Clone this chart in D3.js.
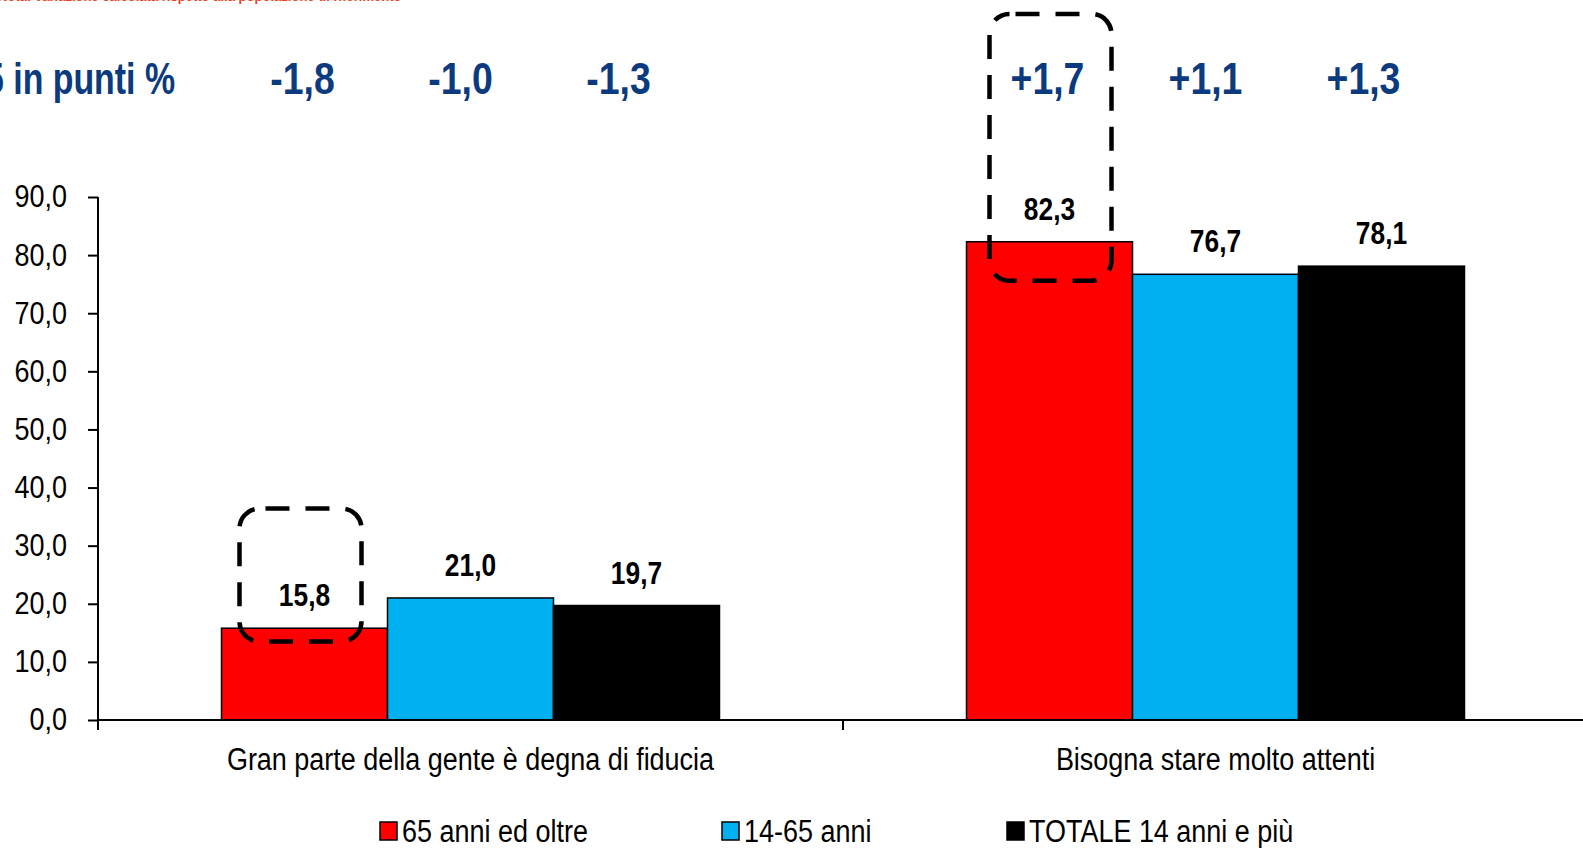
<!DOCTYPE html>
<html>
<head>
<meta charset="utf-8">
<script src="https://cdn.jsdelivr.net/npm/d3@7"></script>
<style>
  body { margin: 0; background: #fff; }
  svg { display: block; }
  text { font-family: "Liberation Sans", Arial, sans-serif; }
</style>
</head>
<body>
<div id="chart"></div>
<script>
// data
var categories = ["Gran parte della gente è degna di fiducia", "Bisogna stare molto attenti"];
var seriesNames = ["65 anni ed oltre", "14-65 anni", "TOTALE 14 anni e più"];
var seriesColors = ["#ff0000", "#00b0f0", "#000000"];
var values65 = [15.8, 82.3];
var values1465 = [21.0, 76.7];
var valuesTot = [19.7, 78.1];
var delta65 = [-1.8, 1.7];
var delta1465 = [-1.0, 1.1];
var deltaTot = [-1.3, 1.3];
var yTicks = [0, 10, 20, 30, 40, 50, 60, 70, 80, 90];
// dashed highlight boxes round the 65+ bars (value units)
var boxTop = [36.4, 121.5];
var boxBottom = [13.5, 75.6];

var seriesValues = [values65, values1465, valuesTot];
var seriesDeltas = [delta65, delta1465, deltaTot];

var width = 1583, height = 848;
var left = 98, catWidth = 745;
var NARROW = 0.87, NARROW_BOLD = 0.85;

var it = d3.formatLocale({decimal: ",", thousands: ".", grouping: [3], currency: ["", "€"]});
var fmt = it.format(".1f");
var fmtSign = function(v) { return (v > 0 ? "+" : "") + fmt(v).replace("−", "-"); };

// no narrow font installed, so squeeze the text horizontally
function place(sel, px, py, sx) {
  sel.attr("transform", "translate(" + px + "," + py + ") scale(" + sx + ",1)");
}

var svg = d3.select("#chart").append("svg")
    .attr("width", width).attr("height", height);

var x0 = d3.scaleBand().domain(categories).range([left, left + 2 * catWidth]);
var x1 = d3.scaleBand().domain(seriesNames).range([0, catWidth]).paddingInner(0).paddingOuter(0.744);
var y = d3.scaleLinear().domain([0, 90]).range([720, 197]);

// cut off note at the very top
svg.append("text").call(place, -2, 1, NARROW)
    .style("font-size", "15px").style("font-weight", "bold").style("fill", "#e8401c")
    .text("Nota: variazione calcolata rispetto alla popolazione di riferimento");

// delta row
svg.append("text").call(place, 175, 94, 0.77).attr("text-anchor", "end")
    .style("font-size", "44px").style("font-weight", "bold").style("fill", "#0b3a7e")
    .text("Variazioni 2015 in punti %");

categories.forEach(function(c, ci) {
  var center = x0(c) + x0.bandwidth() / 2 - 10;
  seriesNames.forEach(function(s, si) {
    svg.append("text")
        .call(place, center + (si - 1) * 158, 94, NARROW_BOLD)
        .attr("text-anchor", "middle")
        .style("font-size", "44px").style("font-weight", "bold").style("fill", "#0b3a7e")
        .text(fmtSign(seriesDeltas[si][ci]));
  });
});

// bars
var groups = svg.append("g").selectAll("g").data(categories).enter().append("g")
    .attr("transform", function(c) { return "translate(" + x0(c) + ",0)"; });

groups.selectAll("rect").data(function(c, ci) {
  return seriesNames.map(function(s, si) { return {s: s, si: si, v: seriesValues[si][ci]}; });
}).enter().append("rect")
    .attr("x", function(d) { return x1(d.s); })
    .attr("y", function(d) { return y(d.v); })
    .attr("width", x1.bandwidth())
    .attr("height", function(d) { return y(0) - y(d.v); })
    .style("fill", function(d) { return seriesColors[d.si]; })
    .style("stroke", "#000").style("stroke-width", 1.5);

groups.selectAll("text.val").data(function(c, ci) {
  return seriesNames.map(function(s, si) { return {s: s, v: seriesValues[si][ci]}; });
}).enter().append("text").attr("class", "val")
    .attr("transform", function(d) {
      return "translate(" + (x1(d.s) + x1.bandwidth() / 2) + "," + (y(d.v) - 22) + ") scale(" + NARROW_BOLD + ",1)";
    })
    .attr("text-anchor", "middle")
    .style("font-size", "31px").style("font-weight", "bold")
    .text(function(d) { return fmt(d.v); });

// dashed boxes
groups.append("rect")
    .attr("x", function(c, ci) { return x1(seriesNames[0]) + x1.bandwidth() / 2 - 65 + ci * 5; })
    .attr("y", function(c, ci) { return y(boxTop[ci]); })
    .attr("width", 122)
    .attr("height", function(c, ci) { return y(boxBottom[ci]) - y(boxTop[ci]); })
    .attr("rx", 20).attr("ry", 20)
    .style("fill", "none").style("stroke", "#000").style("stroke-width", 4.5)
    .style("stroke-dasharray", "24,16").style("stroke-dashoffset", -6);

// y axis
var yAxis = d3.axisLeft(y).tickValues(yTicks).tickSize(10).tickSizeOuter(0).tickPadding(21)
    .tickFormat(fmt);
var ya = svg.append("g").attr("transform", "translate(" + left + ",0)").call(yAxis);
ya.select(".domain").attr("d", "M0," + y(90) + "V" + (y(0) + 10)).style("stroke-width", 2);
ya.selectAll("line").style("stroke-width", 2);
ya.selectAll("text")
    .attr("x", null)
    .call(place, -31, 0, NARROW)
    .style("font-size", "31px").style("fill", "#000")
    .style("font-family", "'Liberation Sans', Arial, sans-serif");

// x axis
svg.append("line").attr("x1", left).attr("x2", width).attr("y1", y(0)).attr("y2", y(0))
    .style("stroke", "#000").style("stroke-width", 2);
categories.forEach(function(c) {
  svg.append("line").attr("x1", x0(c)).attr("x2", x0(c)).attr("y1", y(0)).attr("y2", y(0) + 10)
      .style("stroke", "#000").style("stroke-width", 2);
  svg.append("text").call(place, x0(c) + x0.bandwidth() / 2, 770, NARROW)
      .attr("text-anchor", "middle").style("font-size", "31px").text(c);
});

// legend
var legendX = [380, 722, 1007];
seriesNames.forEach(function(s, si) {
  svg.append("rect").attr("x", legendX[si]).attr("y", 822).attr("width", 17).attr("height", 18)
      .style("fill", seriesColors[si]).style("stroke", "#000").style("stroke-width", 1.5);
  svg.append("text").call(place, legendX[si] + 22, 842, NARROW)
      .style("font-size", "31px").text(s);
});
</script>
</body>
</html>
